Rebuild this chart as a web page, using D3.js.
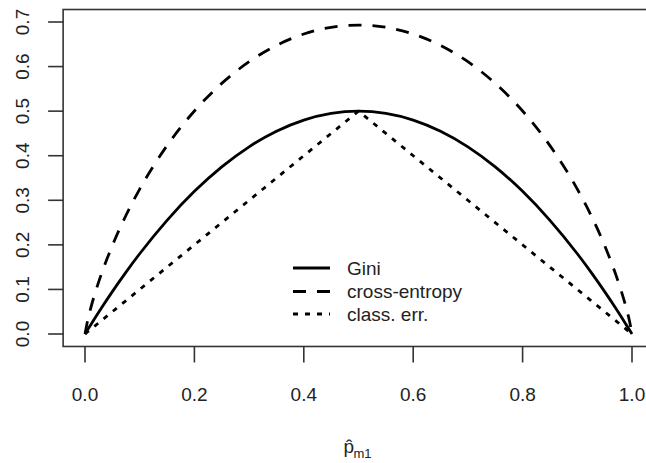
<!DOCTYPE html>
<html>
<head>
<meta charset="utf-8">
<script src="https://cdn.jsdelivr.net/npm/d3@7"></script>
<style>
  html, body { margin: 0; padding: 0; background: #fff; }
  svg { display: block; font-family: "Liberation Sans", Arial, Helvetica, sans-serif; }
</style>
</head>
<body>
<svg id="chart" width="646" height="463"></svg>
<script>
// ---- data ----
const pValues = [0, 0.005, 0.01, 0.02, 0.03, 0.05, 0.075, 0.1, 0.15, 0.2, 0.25, 0.3, 0.35, 0.4, 0.45, 0.5,
                 0.55, 0.6, 0.65, 0.7, 0.75, 0.8, 0.85, 0.9, 0.925, 0.95, 0.97, 0.98, 0.99, 0.995, 1];
const giniValues = [0, 0.00995, 0.0198, 0.0392, 0.0582, 0.095, 0.13875, 0.18, 0.255, 0.32, 0.375, 0.42, 0.455, 0.48, 0.495, 0.5,
                    0.495, 0.48, 0.455, 0.42, 0.375, 0.32, 0.255, 0.18, 0.13875, 0.095, 0.0582, 0.0392, 0.0198, 0.00995, 0];
const entropyValues = [0, 0.0315, 0.056, 0.098, 0.1347, 0.1985, 0.2664, 0.3251, 0.4227, 0.5004, 0.5623, 0.6109, 0.6475, 0.673, 0.6881, 0.6931,
                       0.6881, 0.673, 0.6475, 0.6109, 0.5623, 0.5004, 0.4227, 0.3251, 0.2664, 0.1985, 0.1347, 0.098, 0.056, 0.0315, 0];
const errValues = [0, 0.005, 0.01, 0.02, 0.03, 0.05, 0.075, 0.1, 0.15, 0.2, 0.25, 0.3, 0.35, 0.4, 0.45, 0.5,
                   0.45, 0.4, 0.35, 0.3, 0.25, 0.2, 0.15, 0.1, 0.075, 0.05, 0.03, 0.02, 0.01, 0.005, 0];
const xTicks = [0, 0.2, 0.4, 0.6, 0.8, 1.0];
const yTicks = [0, 0.1, 0.2, 0.3, 0.4, 0.5, 0.6, 0.7];
const seriesNames = ["Gini", "cross-entropy", "class. err."];

// ---- layout ----
const svg = d3.select("#chart");
const x = d3.scaleLinear().domain([0, 1]).range([85, 632]);
const y = d3.scaleLinear().domain([0, 0.7]).range([334, 22]);
const fontSize = 19;

svg.append("rect").attr("width", 646).attr("height", 463).attr("fill", "#fff");

// plot box
const bx0 = x(-0.04), bx1 = x(1.04), by0 = y(0.728), by1 = y(-0.028);
svg.append("rect")
  .attr("x", bx0).attr("y", by0)
  .attr("width", bx1 - bx0).attr("height", by1 - by0)
  .attr("fill", "none").attr("stroke", "#333").attr("stroke-width", 1.6);

// x axis
const xAxis = svg.append("g");
xAxis.selectAll("line").data(xTicks).enter().append("line")
  .attr("x1", d => x(d)).attr("x2", d => x(d))
  .attr("y1", by1).attr("y2", by1 + 16)
  .attr("stroke", "#333").attr("stroke-width", 1.6);
xAxis.selectAll("text").data(xTicks).enter().append("text")
  .attr("x", d => x(d)).attr("y", 400.5)
  .attr("text-anchor", "middle").attr("font-size", fontSize).attr("fill", "#222")
  .text(d => d3.format(".1f")(d));

// y axis
const yAxis = svg.append("g");
yAxis.selectAll("line").data(yTicks).enter().append("line")
  .attr("x1", bx0 - 15).attr("x2", bx0)
  .attr("y1", d => y(d)).attr("y2", d => y(d))
  .attr("stroke", "#333").attr("stroke-width", 1.6);
yAxis.selectAll("text").data(yTicks).enter().append("text")
  .attr("transform", d => `translate(28.5,${y(d)}) rotate(-90)`)
  .attr("text-anchor", "middle").attr("font-size", fontSize).attr("fill", "#222")
  .text(d => d3.format(".1f")(d));

// x axis title: p-hat (combining circumflex) with subscript m1
const title = svg.append("text")
  .attr("x", 343.5).attr("y", 453)
  .attr("font-size", fontSize).attr("fill", "#222");
title.append("tspan").text("p\u0302");
title.append("tspan").attr("x", 353.5).attr("y", 457.5).attr("font-size", 13).text("m1");

// curves
const mk = (vals) => pValues.map((p, i) => ({ p, v: vals[i] }));
const smooth = d3.line().x(d => x(d.p)).y(d => y(d.v)).curve(d3.curveMonotoneX);
const straight = d3.line().x(d => x(d.p)).y(d => y(d.v));
const styles = [
  { dash: null, lw: 2.8 },
  { dash: "13,11", lw: 2.8 },
  { dash: "5,7", lw: 2.8 }
];
const series = [
  { data: mk(giniValues), gen: smooth },
  { data: mk(entropyValues), gen: smooth },
  { data: mk(errValues), gen: straight }
];
series.forEach((s, i) => {
  svg.append("path")
    .attr("d", s.gen(s.data))
    .attr("fill", "none").attr("stroke", "#000")
    .attr("stroke-width", styles[i].lw)
    .attr("stroke-dasharray", styles[i].dash)
    .attr("stroke-linejoin", "round");
});

// legend
const legend = svg.append("g");
const legY = [268, 291.5, 314];
seriesNames.forEach((name, i) => {
  legend.append("line")
    .attr("x1", 293).attr("x2", 330).attr("y1", legY[i]).attr("y2", legY[i])
    .attr("stroke", "#000").attr("stroke-width", 2.8)
    .attr("stroke-dasharray", styles[i].dash);
  legend.append("text")
    .attr("x", 347).attr("y", legY[i] + 6.5)
    .attr("font-size", fontSize).attr("fill", "#222")
    .text(name);
});
</script>
</body>
</html>
